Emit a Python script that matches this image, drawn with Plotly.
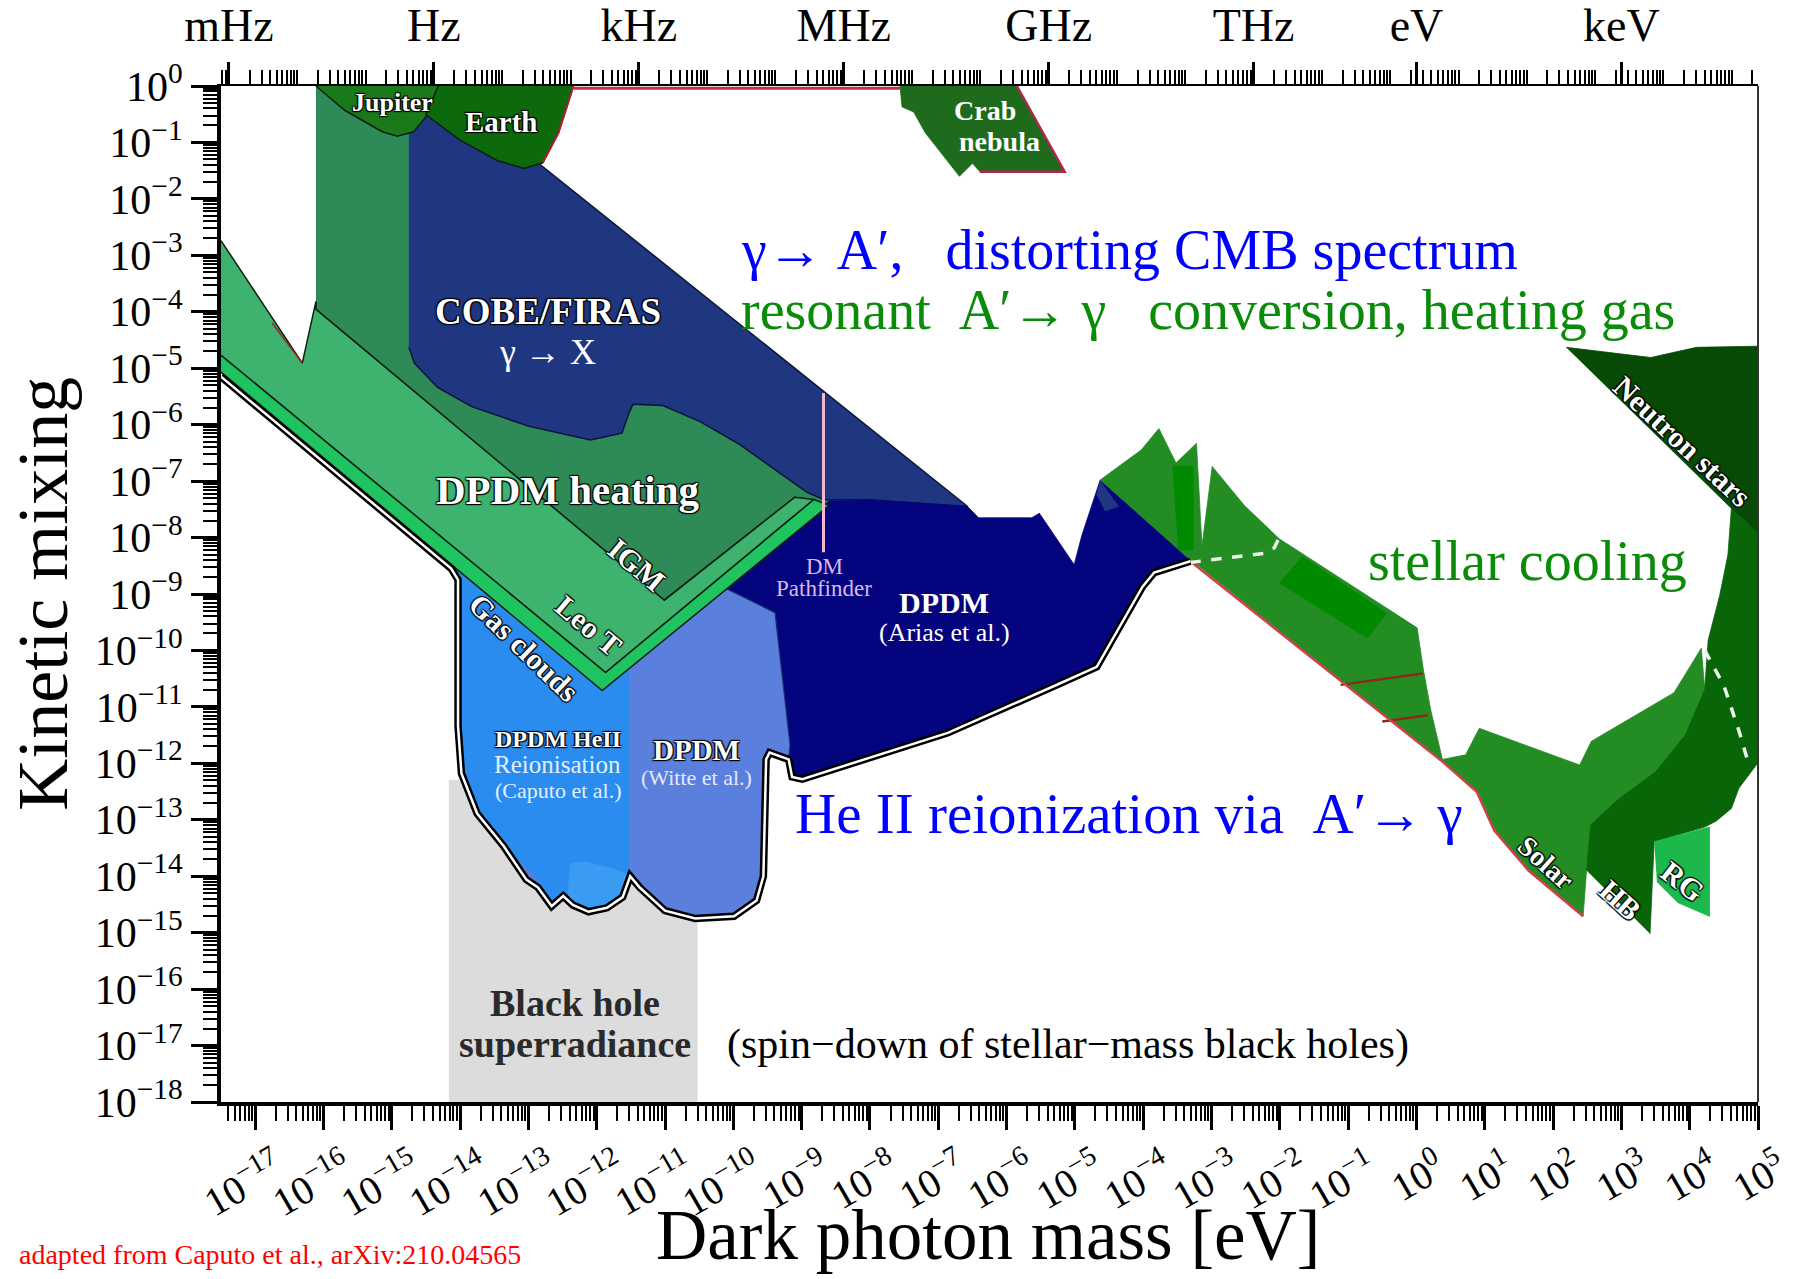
import numpy as np
import plotly.graph_objects as go

# ---------------- data: vertices in log10(m/eV), log10(epsilon) ----------------
bhsr_logm = [-14.165, -10.53, -10.53, -14.165]
bhsr_logeps = [-18.0, -18.0, -12.3, -12.3]

igm_logm = [-16.11, -14.5, -12.0, -9.0, -8.5, -8.60, -9.10, -11.01, -16.11]
igm_logeps = [0.0, 0.0, -5.0, -6.8, -7.36, -7.43, -7.285, -9.11, -3.957]

heating_logm = [-17.5, -16.31, -16.11, -16.11, -11.01, -9.10, -8.82, -11.87, -17.5]
heating_logeps = [-2.74, -4.91, -3.815, -3.957, -9.11, -7.285, -7.325, -10.39, -4.77]

cobe_logm = [-14.75, -13.36, -12.82, -6.57, -7.33, -8.00, -8.67, -8.92, -9.34, -9.91, -10.48,
             -11.03, -11.47, -11.53, -11.63, -12.09, -12.99, -13.83, -14.33, -14.67, -14.75]
cobe_logeps = [-0.51, -0.51, -1.40, -7.45, -7.39, -7.33, -7.33, -7.20, -6.84, -6.35, -5.95,
               -5.66, -5.64, -5.80, -6.15, -6.27, -6.03, -5.68, -5.34, -4.91, -4.63]

arias_logm = [-11.68, -8.60, -8.00, -7.33, -6.57, -6.41, -5.63, -5.52, -5.01, -4.90, -4.63, -3.31,
              -3.84, -4.01, -4.68, -5.23, -6.86, -8.99, -9.14, -9.19, -9.17, -9.39, -10.11]
arias_logeps = [-10.55, -7.35, -7.33, -7.39, -7.45, -7.65, -7.65, -7.57, -8.48, -7.97, -6.98, -8.40,
                -8.62, -8.87, -10.29, -10.59, -11.46, -12.28, -12.24, -11.93, -11.67, -9.33, -9.05]

cobe_patch_logm = [-4.68, -4.63, -4.36, -4.56]
cobe_patch_logeps = [-7.25, -7.00, -7.45, -7.53]

heii_logm = [-14.13, -11.90, -11.51, -11.51, -11.62, -11.85, -12.12, -12.35, -12.49, -12.66, -12.86,
             -13.03, -13.36, -13.75, -13.98, -14.03, -14.03, -14.13]
heii_logeps = [-8.40, -10.55, -10.1, -14.00, -14.37, -14.56, -14.63, -14.51, -14.35, -14.53, -14.20,
               -14.06, -13.47, -12.89, -12.18, -11.34, -8.75, -8.55]

heii_sliver_logm = [-13.36, -13.24, -12.91, -12.66, -12.66, -12.86, -13.03]
heii_sliver_logeps = [-13.47, -13.60, -14.00, -14.43, -14.53, -14.20, -14.06]

heii_patch_logm = [-12.39, -12.19, -11.79, -11.57, -11.62, -11.85, -12.12, -12.35, -12.43]
heii_patch_logeps = [-13.78, -13.74, -13.86, -13.96, -14.37, -14.56, -14.63, -14.51, -14.38]

witte_logm = [-11.51, -10.11, -9.39, -9.17, -9.19, -9.47, -9.52, -9.56, -9.66, -9.99, -10.56,
              -11.00, -11.37, -11.51]
witte_logeps = [-10.1, -8.90, -9.33, -11.67, -11.93, -11.81, -11.93, -14.00, -14.43, -14.71, -14.75,
                -14.61, -14.20, -14.00]

leot_logm = [-17.5, -11.87, -8.82, -8.60, -11.92, -17.5]
leot_logeps = [-4.77, -10.39, -7.325, -7.43, -10.71, -5.07]

jupiter_logm = [-16.11, -15.69, -15.14, -14.92, -14.68, -14.42, -14.25]
jupiter_logeps = [0.0, -0.43, -0.81, -0.89, -0.81, -0.43, 0.0]

earth_logm = [-14.32, -14.50, -14.01, -13.46, -13.06, -12.79, -12.56, -12.34]
earth_logeps = [0.0, -0.51, -0.95, -1.32, -1.46, -1.36, -0.83, 0.0]
earth_edge_logm = [-12.34, -12.56, -12.79]
earth_edge_logeps = [0.0, -0.83, -1.36]

notch_edge_logm = [-16.75, -16.31]
notch_edge_logeps = [-4.20, -4.91]

crab_logm = [-7.56, -7.53, -7.36, -7.19, -6.69, -6.50, -6.39, -5.15, -5.85]
crab_logeps = [0.0, -0.37, -0.46, -0.83, -1.60, -1.37, -1.52, -1.52, 0.0]
crab_edge_logm = [-5.85, -5.15, -6.39]
crab_edge_logeps = [0.0, -1.52, -1.52]
top_strip_logm = [-12.34, -7.56]
top_strip_logeps = [-0.04, -0.04]

stellar_logm = [-4.63, -4.03, -3.77, -3.52, -3.22, -3.14, -2.99, -2.52, -2.01, 0.01, 0.10, 0.21, 0.38,
                0.72, 0.92, 2.39, 2.56, 3.77, 4.17, 4.22, 3.94, 3.50, 2.94, 2.55, 2.49, 2.44, 1.64,
                1.14, 0.88, 0.38, -3.17, -3.31]
stellar_logeps = [-6.98, -6.45, -6.07, -6.68, -6.33, -8.16, -6.74, -7.43, -8.02, -9.60, -10.33, -11.06,
                  -11.93, -11.85, -11.38, -12.03, -11.61, -10.75, -9.96, -10.69, -11.49, -12.15, -12.65,
                  -13.09, -13.90, -14.71, -13.90, -13.19, -12.50, -11.97, -8.52, -8.40]

bar_logm = [-3.57, -3.27, -3.27, -3.49]
bar_logeps = [-6.74, -6.74, -8.22, -8.22]
slab_logm = [-2.01, -1.67, -0.44, -0.72]
slab_logeps = [-8.81, -8.34, -9.34, -9.79]

red1_logm = [-1.11, 0.09]
red1_logeps = [-10.61, -10.41]
red2_logm = [-0.50, 0.17]
red2_logeps = [-11.26, -11.15]
red_edge_logm = [-3.31, 0.38, 0.88, 1.14, 1.64, 2.44]
red_edge_logeps = [-8.42, -11.97, -12.50, -13.19, -13.90, -14.71]

neutron_logm = [2.19, 3.43, 4.10, 5.0, 5.0, 4.61]
neutron_logeps = [-4.63, -4.81, -4.63, -4.61, -7.93, -7.49]

hb_logm = [2.49, 2.55, 2.94, 3.50, 3.94, 4.22, 4.27, 4.44, 4.56, 4.61, 5.0, 5.0, 4.72, 4.61, 4.39,
           4.22, 3.48, 3.42]
hb_logeps = [-13.90, -13.09, -12.65, -12.15, -11.49, -10.69, -9.82, -9.02, -8.30, -7.49, -7.93, -11.99,
             -12.44, -12.80, -13.02, -13.13, -13.39, -15.02]

rg_logm = [3.48, 3.90, 4.29, 4.29, 3.83, 3.52]
rg_logeps = [-13.39, -13.25, -13.13, -14.71, -14.47, -14.10]

dash1_logm = [-3.31, -2.23, -2.08, -2.01]
dash1_logeps = [-8.44, -8.28, -8.18, -8.00]
dash2_logm = [4.22, 4.50, 4.72, 4.86]
dash2_logeps = [-10.00, -10.62, -11.42, -12.00]

outline_logm = [-17.5, -14.13, -14.03, -14.03, -13.98, -13.75, -13.36, -13.03, -12.86, -12.66, -12.49,
                -12.35, -12.12, -11.85, -11.62, -11.51, -11.37, -11.00, -10.56, -9.99, -9.66, -9.56,
                -9.52, -9.47, -9.19, -9.14, -8.99, -6.86, -5.23, -4.68, -4.01, -3.84, -3.31]
outline_logeps = [-5.15, -8.55, -8.75, -11.34, -12.18, -12.89, -13.47, -14.06, -14.20, -14.53, -14.35,
                  -14.51, -14.63, -14.56, -14.37, -14.00, -14.20, -14.61, -14.75, -14.71, -14.43, -14.00,
                  -11.93, -11.81, -11.93, -12.24, -12.28, -11.46, -10.59, -10.29, -8.87, -8.62, -8.42]

dmpf_logm = [-8.68, -8.68]
dmpf_logeps = [-5.44, -8.26]

x_decades = list(range(-17, 6))
y_decades = list(range(-18, 1))
freq_labels = ["mHz", "Hz", "kHz", "MHz", "GHz", "THz"]
freq_values_hz = [1e-3, 1.0, 1e3, 1e6, 1e9, 1e12]
energy_labels = ["eV", "keV"]
energy_values_ev = [1.0, 1e3]
H_EV_PER_HZ = 4.135667e-15

# ---------------- figure ----------------
fig = go.Figure()


def poly(lm, le, fill, lc=None, lw=0.8):
    fig.add_trace(go.Scatter(
        x=10 ** np.array(lm, dtype=float), y=10 ** np.array(le, dtype=float),
        mode="lines", fill="toself", fillcolor=fill,
        line=dict(color=lc if lc else fill, width=lw),
        hoverinfo="skip", showlegend=False))


def line(lm, le, color, width, dash="solid"):
    fig.add_trace(go.Scatter(
        x=10 ** np.array(lm, dtype=float), y=10 ** np.array(le, dtype=float),
        mode="lines", line=dict(color=color, width=width, dash=dash),
        hoverinfo="skip", showlegend=False))


EDGE = "#0d1f12"
poly(bhsr_logm, bhsr_logeps, "#dcdcdc")
poly(igm_logm, igm_logeps, "#2e8b57", EDGE, 1.5)
poly(heating_logm, heating_logeps, "#3db36f", EDGE, 1.5)
poly(cobe_logm, cobe_logeps, "#1f3681", "#0b1436", 1.5)
poly(arias_logm, arias_logeps, "#04047e")
poly(cobe_patch_logm, cobe_patch_logeps, "#1f3681")
poly(heii_logm, heii_logeps, "#2b8cf0")
poly(heii_sliver_logm, heii_sliver_logeps, "#5b7fdc")
poly(heii_patch_logm, heii_patch_logeps, "#3a9bf2")
poly(witte_logm, witte_logeps, "#5b7fdc", "#1a2f70", 1.2)
poly(leot_logm, leot_logeps, "#1fc461", EDGE, 1.5)
poly(jupiter_logm, jupiter_logeps, "#1a7a1a", EDGE, 1.5)
poly(earth_logm, earth_logeps, "#0c690c", EDGE, 1.5)
line(earth_edge_logm, earth_edge_logeps, "#b02030", 2)
line(notch_edge_logm, notch_edge_logeps, "#a02020", 1.5)
poly(crab_logm, crab_logeps, "#1e6b1e")
line(crab_edge_logm, crab_edge_logeps, "#b02848", 2.5)
line(top_strip_logm, top_strip_logeps, "#c03050", 3)
poly(stellar_logm, stellar_logeps, "#238c23")
poly(bar_logm, bar_logeps, "#008a00")
poly(slab_logm, slab_logeps, "#008a00")
line(red1_logm, red1_logeps, "#8c2a1a", 2.5)
line(red2_logm, red2_logeps, "#8c2a1a", 2.5)
line(red_edge_logm, red_edge_logeps, "#d0404a", 2.5)
poly(neutron_logm, neutron_logeps, "#064a06")
poly(hb_logm, hb_logeps, "#086508")
poly(rg_logm, rg_logeps, "#1db84c")
line(dash1_logm, dash1_logeps, "#e8f5e8", 3.5, "dash")
line(dash2_logm, dash2_logeps, "#e8f5e8", 3.5, "dash")
line(outline_logm, outline_logeps, "black", 7.5)
line(outline_logm, outline_logeps, "white", 2.5)
line(dmpf_logm, dmpf_logeps, "#f2b8cc", 3)

# dummy trace for the top frequency axis
fig.add_trace(go.Scatter(x=[1.0], y=[1e-9], xaxis="x2", mode="markers",
                         marker=dict(opacity=0), hoverinfo="skip", showlegend=False))

SERIF = "Liberation Serif"
OUT = "-1px -1px 1px #000, 1px -1px 1px #000, -1px 1px 1px #000, 1px 1px 1px #000"

labels = [
    ("Jupiter", -14.99, -0.30, 26, "white", 0, True, True),
    ("Earth", -13.39, -0.63, 29, "white", 0, True, True),
    ("Crab", -6.32, -0.44, 28, "white", 0, True, False),
    ("nebula", -6.10, -0.98, 28, "white", 0, True, False),
    ("COBE/FIRAS", -12.72, -4.00, 37, "white", 0, True, True),
    ("γ → X", -12.72, -4.71, 36, "white", 0, False, False),
    ("DPDM heating", -12.42, -7.16, 41, "white", 0, True, True),
    ("IGM", -11.42, -8.48, 30, "white", 40, True, True),
    ("Leo T", -12.12, -9.56, 30, "white", 40, True, True),
    ("Gas clouds", -13.06, -9.94, 30, "white", 44, True, True),
    ("DPDM HeII", -12.57, -11.57, 24, "white", 0, True, True),
    ("Reionisation", -12.57, -12.02, 25, "#e2f0ff", 0, False, False),
    ("(Caputo et al.)", -12.57, -12.49, 22, "#e2f0ff", 0, False, False),
    ("DPDM", -10.54, -11.77, 29, "white", 0, True, True),
    ("(Witte et al.)", -10.54, -12.25, 22, "#e4eaff", 0, False, False),
    ("DM", -8.67, -8.52, 23, "#d8b8ec", 0, False, False),
    ("Pathfinder", -8.67, -8.91, 23, "#d8b8ec", 0, False, False),
    ("DPDM", -6.91, -9.15, 30, "white", 0, True, False),
    ("(Arias et al.)", -6.91, -9.68, 26, "white", 0, False, False),
    ("Black hole", -12.32, -16.25, 38, "#2a2a2a", 0, True, False),
    ("superradiance", -12.32, -16.98, 38, "#2a2a2a", 0, True, False),
    ("Neutron stars", 3.90, -6.29, 30, "white", 43, True, True),
    ("Solar", 1.89, -13.76, 28, "white", 42, True, True),
    ("HB", 2.98, -14.41, 30, "white", 42, True, True),
    ("RG", 3.90, -14.10, 30, "white", 38, True, True),
]

ann = []
for text, lx, ly, size, color, angle, bold, outlined in labels:
    ann.append(dict(x=lx, y=ly, xref="x", yref="y", text=text, showarrow=False,
                    textangle=angle, xanchor="center", yanchor="middle",
                    font=dict(family=SERIF, size=size, color=color,
                              weight="bold" if bold else "normal",
                              shadow=OUT if outlined else "none")))

NB = "\u00a0"
big = [
    ("(spin−down of stellar−mass black holes)", -5.10, -16.98, 42, "black", "center"),
    ("γ→ A′," + NB * 3 + "distorting CMB spectrum", -9.92, -2.90, 56, "#0000ff", "left"),
    ("resonant" + NB * 2 + "A′→ γ" + NB * 3 + "conversion, heating gas", -9.92, -3.96, 56, "#0a8c0a", "left"),
    ("He II reionization via" + NB * 2 + "A′→ γ", -9.12, -12.89, 57, "#0000ff", "left"),
    ("stellar cooling", -0.74, -8.42, 56, "#0a8c0a", "left"),
]
for text, lx, ly, size, color, xa in big:
    ann.append(dict(x=lx, y=ly, xref="x", yref="y", text=text, showarrow=False,
                    xanchor=xa, yanchor="middle",
                    font=dict(family=SERIF, size=size, color=color)))

ann += [
    dict(x=-0.116, y=0.50, xref="paper", yref="paper", text="Kinetic mixing", showarrow=False,
         textangle=-90, xanchor="center", yanchor="middle",
         font=dict(family=SERIF, size=72, color="black")),
    dict(x=0.499, y=-0.131, xref="paper", yref="paper", text="Dark photon mass [eV]",
         showarrow=False, xanchor="center", yanchor="middle",
         font=dict(family=SERIF, size=71, color="black")),
    dict(x=-0.133, y=-0.150, xref="paper", yref="paper",
         text="adapted from Caputo et al., arXiv:210.04565", showarrow=False,
         xanchor="left", yanchor="middle", font=dict(family=SERIF, size=28, color="#ff0000")),
]


def sup(k):
    return "10<sup>" + (str(k) if k >= 0 else "−" + str(-k)) + "</sup>"


x_minor = [m * 10.0 ** k for k in range(-18, 5) for m in range(2, 10)]
y_minor = [m * 10.0 ** k for k in range(-18, 0) for m in range(2, 10)]
top_major = [f * H_EV_PER_HZ for f in freq_values_hz] + energy_values_ev
top_text = freq_labels + energy_labels
top_minor = [m * 10.0 ** k * H_EV_PER_HZ for k in range(-4, 20) for m in range(1, 10)]

fig.update_layout(
    width=1796, height=1279,
    margin=dict(l=221, r=38, t=86, b=177, autoexpand=False),
    paper_bgcolor="white", plot_bgcolor="white",
    showlegend=False,
    annotations=ann,
    xaxis=dict(type="log", range=[-17.5, 5], showgrid=False, zeroline=False, automargin=False,
               showline=True, linecolor="black", linewidth=4,
               ticks="outside", ticklen=24, tickwidth=3, tickcolor="black",
               tickmode="array", tickvals=[10.0 ** k for k in x_decades],
               ticktext=[sup(k) for k in x_decades], tickangle=-30, ticklabelshift=22,
               tickfont=dict(family=SERIF, size=40, color="black"),
               minor=dict(tickmode="array", tickvals=x_minor, ticks="outside",
                          ticklen=15, tickwidth=1.5, tickcolor="black", showgrid=False)),
    xaxis2=dict(type="log", range=[-17.5, 5], overlaying="x", side="top", anchor="y",
                automargin=False,
                showgrid=False, zeroline=False, showline=True, linecolor="black", linewidth=2,
                ticks="outside", ticklen=22, tickwidth=3, tickcolor="black",
                tickmode="array", tickvals=top_major, ticktext=top_text,
                ticklabelstandoff=3,
                tickfont=dict(family=SERIF, size=46, color="black"),
                minor=dict(tickmode="array", tickvals=top_minor, ticks="outside",
                           ticklen=14, tickwidth=1.5, tickcolor="black", showgrid=False)),
    yaxis=dict(type="log", range=[-18, 0], showgrid=False, zeroline=False, automargin=False,
               showline=True, linecolor="black", linewidth=4,
               ticks="outside", ticklen=26, tickwidth=3, tickcolor="black",
               tickmode="array", tickvals=[10.0 ** k for k in y_decades],
               ticktext=[sup(k) for k in y_decades],
               tickfont=dict(family=SERIF, size=42, color="black"),
               minor=dict(tickmode="array", tickvals=y_minor, ticks="outside",
                          ticklen=14, tickwidth=1.5, tickcolor="black", showgrid=False)),
    shapes=[dict(type="line", xref="paper", yref="paper", x0=1, x1=1, y0=0, y1=1,
                 line=dict(color="#333333", width=2))],
)

fig.write_html("out.html")
